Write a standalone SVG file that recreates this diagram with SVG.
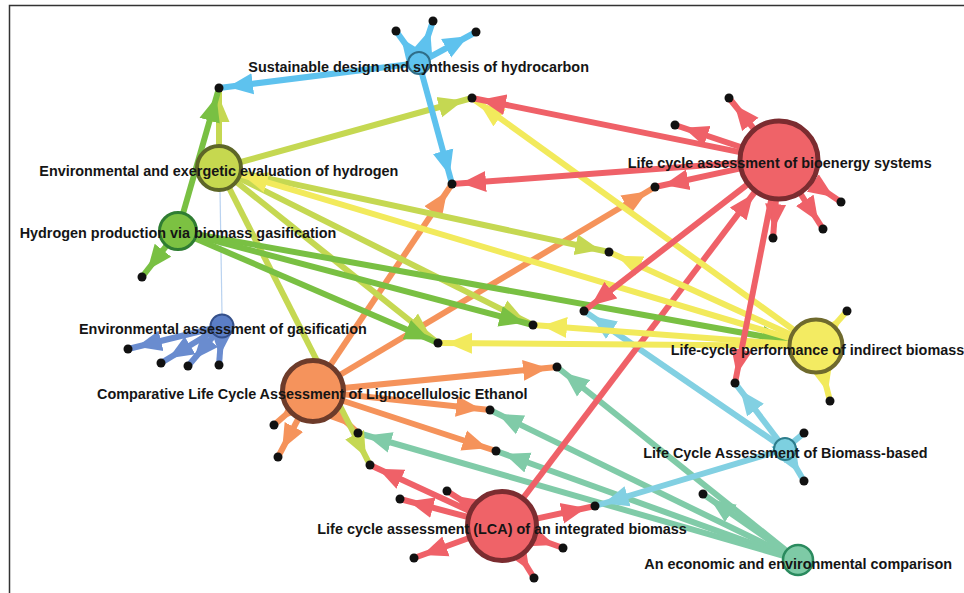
<svg xmlns="http://www.w3.org/2000/svg" width="964" height="593" viewBox="0 0 964 593">
<style>
.e{fill:none;stroke-width:6}
.r{stroke:#ef6168}.y{stroke:#f2ea5c}.yg{stroke:#c5d852}.g{stroke:#79c043}.o{stroke:#f5935b}.t{stroke:#80cba8}.lb{stroke:#82d0e2}.sb{stroke:#5ec2ee}.gb{stroke:#6a8ccf}
.dot{fill:#111}
.lbl{font-family:"Liberation Sans",Arial,sans-serif;font-weight:bold;font-size:14.4px;fill:#151515}
</style>
<defs>
<marker id="m-r" markerUnits="userSpaceOnUse" markerWidth="34" markerHeight="22" refX="34" refY="11" orient="auto"><path d="M0,0.5 L25,11 L0,21.5 Z" fill="#ef6168"/></marker>
<marker id="m-y" markerUnits="userSpaceOnUse" markerWidth="34" markerHeight="22" refX="34" refY="11" orient="auto"><path d="M0,0.5 L25,11 L0,21.5 Z" fill="#f2ea5c"/></marker>
<marker id="m-yg" markerUnits="userSpaceOnUse" markerWidth="34" markerHeight="22" refX="34" refY="11" orient="auto"><path d="M0,0.5 L25,11 L0,21.5 Z" fill="#c5d852"/></marker>
<marker id="m-g" markerUnits="userSpaceOnUse" markerWidth="34" markerHeight="22" refX="34" refY="11" orient="auto"><path d="M0,0.5 L25,11 L0,21.5 Z" fill="#79c043"/></marker>
<marker id="m-o" markerUnits="userSpaceOnUse" markerWidth="34" markerHeight="22" refX="34" refY="11" orient="auto"><path d="M0,0.5 L25,11 L0,21.5 Z" fill="#f5935b"/></marker>
<marker id="m-t" markerUnits="userSpaceOnUse" markerWidth="34" markerHeight="22" refX="34" refY="11" orient="auto"><path d="M0,0.5 L25,11 L0,21.5 Z" fill="#80cba8"/></marker>
<marker id="m-lb" markerUnits="userSpaceOnUse" markerWidth="34" markerHeight="22" refX="34" refY="11" orient="auto"><path d="M0,0.5 L25,11 L0,21.5 Z" fill="#82d0e2"/></marker>
<marker id="m-sb" markerUnits="userSpaceOnUse" markerWidth="34" markerHeight="22" refX="34" refY="11" orient="auto"><path d="M0,0.5 L25,11 L0,21.5 Z" fill="#5ec2ee"/></marker>
<marker id="m-gb" markerUnits="userSpaceOnUse" markerWidth="34" markerHeight="22" refX="34" refY="11" orient="auto"><path d="M0,0.5 L25,11 L0,21.5 Z" fill="#6a8ccf"/></marker>
</defs>
<path d="M9.5,593 V5.5 H964" fill="none" stroke="#333" stroke-width="1.5"/>
<g id="connectors">
<line x1="220" y1="190" x2="222" y2="314" stroke="#b9d2f0" stroke-width="1.2"/>
<line class="e t" x1="798" y1="560" x2="557" y2="367" marker-end="url(#m-t)"/>
<line class="e t" x1="798" y1="560" x2="490" y2="410" marker-end="url(#m-t)"/>
<line class="e t" x1="798" y1="560" x2="496" y2="451" marker-end="url(#m-t)"/>
<line class="e t" x1="798" y1="560" x2="358" y2="433" marker-end="url(#m-t)"/>
<line class="e t" x1="798" y1="560" x2="703" y2="494" marker-end="url(#m-t)"/>
<line class="e lb" x1="785" y1="449" x2="584" y2="311" marker-end="url(#m-lb)"/>
<line class="e lb" x1="785" y1="449" x2="735" y2="383" marker-end="url(#m-lb)"/>
<line class="e lb" x1="785" y1="449" x2="804" y2="433" marker-end="url(#m-lb)"/>
<line class="e lb" x1="785" y1="449" x2="804" y2="481" marker-end="url(#m-lb)"/>
<line class="e lb" x1="785" y1="449" x2="595" y2="506" marker-end="url(#m-lb)"/>
<line class="e r" x1="502" y1="526" x2="758.7" y2="186.9" marker-end="url(#m-r)"/>
<line class="e r" x1="502" y1="526" x2="370" y2="465" marker-end="url(#m-r)"/>
<line class="e r" x1="502" y1="526" x2="447" y2="491" marker-end="url(#m-r)"/>
<line class="e r" x1="502" y1="526" x2="400" y2="499" marker-end="url(#m-r)"/>
<line class="e r" x1="502" y1="526" x2="414" y2="558" marker-end="url(#m-r)"/>
<line class="e r" x1="502" y1="526" x2="595" y2="506" marker-end="url(#m-r)"/>
<line class="e r" x1="502" y1="526" x2="563" y2="548" marker-end="url(#m-r)"/>
<line class="e r" x1="502" y1="526" x2="534" y2="578" marker-end="url(#m-r)"/>
<line class="e o" x1="313" y1="391" x2="452" y2="184" marker-end="url(#m-o)"/>
<line class="e o" x1="313" y1="391" x2="655" y2="187" marker-end="url(#m-o)"/>
<line class="e o" x1="313" y1="391" x2="557" y2="367" marker-end="url(#m-o)"/>
<line class="e o" x1="313" y1="391" x2="490" y2="410" marker-end="url(#m-o)"/>
<line class="e o" x1="313" y1="391" x2="496" y2="451" marker-end="url(#m-o)"/>
<line class="e o" x1="313" y1="391" x2="274" y2="425" marker-end="url(#m-o)"/>
<line class="e o" x1="313" y1="391" x2="278" y2="457" marker-end="url(#m-o)"/>
<line class="e o" x1="313" y1="391" x2="358" y2="433" marker-end="url(#m-o)"/>
<line class="e yg" x1="219" y1="168" x2="219" y2="88" marker-end="url(#m-yg)"/>
<line class="e yg" x1="219" y1="168" x2="472" y2="98" marker-end="url(#m-yg)"/>
<line class="e yg" x1="219" y1="168" x2="609" y2="252" marker-end="url(#m-yg)"/>
<line class="e yg" x1="219" y1="168" x2="533" y2="325" marker-end="url(#m-yg)"/>
<line class="e yg" x1="219" y1="168" x2="438" y2="343" marker-end="url(#m-yg)"/>
<line class="e yg" x1="219" y1="168" x2="370" y2="465" marker-end="url(#m-yg)"/>
<line class="e g" x1="178" y1="231" x2="219" y2="88" marker-end="url(#m-g)"/>
<line class="e g" x1="178" y1="231" x2="142" y2="277" marker-end="url(#m-g)"/>
<line class="e g" x1="178" y1="231" x2="795.8" y2="342.4" marker-end="url(#m-g)"/>
<line class="e g" x1="178" y1="231" x2="533" y2="325" marker-end="url(#m-g)"/>
<line class="e g" x1="178" y1="231" x2="438" y2="343" marker-end="url(#m-g)"/>
<line class="e y" x1="816" y1="346" x2="472" y2="98" marker-end="url(#m-y)"/>
<line class="e y" x1="816" y1="346" x2="234.3" y2="172.6" marker-end="url(#m-y)"/>
<line class="e y" x1="816" y1="346" x2="609" y2="252" marker-end="url(#m-y)"/>
<line class="e y" x1="816" y1="346" x2="533" y2="325" marker-end="url(#m-y)"/>
<line class="e y" x1="816" y1="346" x2="438" y2="343" marker-end="url(#m-y)"/>
<line class="e y" x1="816" y1="346" x2="847" y2="311" marker-end="url(#m-y)"/>
<line class="e y" x1="816" y1="346" x2="830" y2="401" marker-end="url(#m-y)"/>
<line class="e r" x1="779" y1="160" x2="472" y2="98" marker-end="url(#m-r)"/>
<line class="e r" x1="779" y1="160" x2="452" y2="184" marker-end="url(#m-r)"/>
<line class="e r" x1="779" y1="160" x2="675" y2="125" marker-end="url(#m-r)"/>
<line class="e r" x1="779" y1="160" x2="729" y2="98" marker-end="url(#m-r)"/>
<line class="e r" x1="779" y1="160" x2="655" y2="187" marker-end="url(#m-r)"/>
<line class="e r" x1="779" y1="160" x2="841" y2="202" marker-end="url(#m-r)"/>
<line class="e r" x1="779" y1="160" x2="823" y2="229" marker-end="url(#m-r)"/>
<line class="e r" x1="779" y1="160" x2="773" y2="238" marker-end="url(#m-r)"/>
<line class="e r" x1="779" y1="160" x2="584" y2="311" marker-end="url(#m-r)"/>
<line class="e r" x1="779" y1="160" x2="735" y2="383" marker-end="url(#m-r)"/>
<line class="e gb" x1="222" y1="326" x2="128" y2="349" marker-end="url(#m-gb)"/>
<line class="e gb" x1="222" y1="326" x2="161" y2="363" marker-end="url(#m-gb)"/>
<line class="e gb" x1="222" y1="326" x2="188" y2="366" marker-end="url(#m-gb)"/>
<line class="e gb" x1="222" y1="326" x2="219" y2="365" marker-end="url(#m-gb)"/>
<line class="e sb" x1="419" y1="63" x2="396" y2="31" marker-end="url(#m-sb)"/>
<line class="e sb" x1="419" y1="63" x2="433" y2="21" marker-end="url(#m-sb)"/>
<line class="e sb" x1="419" y1="63" x2="476" y2="32" marker-end="url(#m-sb)"/>
<line class="e sb" x1="419" y1="63" x2="219" y2="88" marker-end="url(#m-sb)"/>
<line class="e sb" x1="419" y1="63" x2="452" y2="184" marker-end="url(#m-sb)"/>
</g>
<g id="endpoints">
<circle class="dot" cx="396" cy="31" r="4.5"/><circle class="dot" cx="433" cy="21" r="4.5"/><circle class="dot" cx="476" cy="32" r="4.5"/>
<circle class="dot" cx="219" cy="88" r="4.5"/><circle class="dot" cx="472" cy="98" r="4.5"/><circle class="dot" cx="729" cy="98" r="4.5"/>
<circle class="dot" cx="675" cy="125" r="4.5"/><circle class="dot" cx="452" cy="184" r="4.5"/><circle class="dot" cx="655" cy="187" r="4.5"/>
<circle class="dot" cx="841" cy="202" r="4.5"/><circle class="dot" cx="823" cy="229" r="4.5"/><circle class="dot" cx="773" cy="238" r="4.5"/>
<circle class="dot" cx="609" cy="252" r="4.5"/><circle class="dot" cx="142" cy="277" r="4.5"/><circle class="dot" cx="584" cy="311" r="4.5"/>
<circle class="dot" cx="847" cy="311" r="4.5"/><circle class="dot" cx="533" cy="325" r="4.5"/><circle class="dot" cx="438" cy="343" r="4.5"/>
<circle class="dot" cx="128" cy="349" r="4.5"/><circle class="dot" cx="161" cy="363" r="4.5"/><circle class="dot" cx="188" cy="366" r="4.5"/>
<circle class="dot" cx="219" cy="365" r="4.5"/><circle class="dot" cx="557" cy="367" r="4.5"/><circle class="dot" cx="735" cy="383" r="4.5"/>
<circle class="dot" cx="830" cy="401" r="4.5"/><circle class="dot" cx="490" cy="410" r="4.5"/><circle class="dot" cx="274" cy="425" r="4.5"/>
<circle class="dot" cx="358" cy="433" r="4.5"/><circle class="dot" cx="804" cy="433" r="4.5"/><circle class="dot" cx="496" cy="451" r="4.5"/>
<circle class="dot" cx="278" cy="457" r="4.5"/><circle class="dot" cx="370" cy="465" r="4.5"/><circle class="dot" cx="804" cy="481" r="4.5"/>
<circle class="dot" cx="447" cy="491" r="4.5"/><circle class="dot" cx="703" cy="494" r="4.5"/><circle class="dot" cx="400" cy="499" r="4.5"/>
<circle class="dot" cx="595" cy="506" r="4.5"/><circle class="dot" cx="563" cy="548" r="4.5"/><circle class="dot" cx="414" cy="558" r="4.5"/>
<circle class="dot" cx="534" cy="578" r="4.5"/>
</g>
<g id="node-sustainable"><circle cx="419" cy="63" r="11" fill="#5ec2ee" stroke="#2f6e89" stroke-width="2"/><text class="lbl" x="248.3" y="72">Sustainable design and synthesis of hydrocarbon</text></g>
<g id="node-bioenergy"><circle cx="779" cy="160" r="39" fill="#ef6368" stroke="#7b2c30" stroke-width="5"/><text class="lbl" x="627.7" y="168.3">Life cycle assessment of bioenergy systems</text></g>
<g id="node-exergetic"><circle cx="219" cy="168" r="22" fill="#c6d84f" stroke="#5d6627" stroke-width="4"/><text class="lbl" x="39.3" y="175.7">Environmental and exergetic evaluation of hydrogen</text></g>
<g id="node-hydrogen"><circle cx="178" cy="231" r="18.5" fill="#7cc142" stroke="#2f7d32" stroke-width="3"/><text class="lbl" x="19.7" y="238.4">Hydrogen production via biomass gasification</text></g>
<g id="node-gasification"><circle cx="222" cy="326" r="11.5" fill="#5b7ec6" stroke="#35508a" stroke-width="2"/><text class="lbl" x="79" y="333.7">Environmental assessment of gasification</text></g>
<g id="node-ethanol"><circle cx="313" cy="391" r="30.5" fill="#f5935c" stroke="#6d3b2a" stroke-width="5"/><text class="lbl" x="97" y="399.3">Comparative Life Cycle Assessment of Lignocellulosic Ethanol</text></g>
<g id="node-indirect"><circle cx="816" cy="346" r="26.5" fill="#f3eb62" stroke="#6f6a2d" stroke-width="4"/><text class="lbl" x="670.7" y="354.7">Life-cycle performance of indirect biomass</text></g>
<g id="node-biomass-based"><circle cx="785" cy="449" r="11" fill="#7dd0e0" stroke="#2d7d8c" stroke-width="2"/><text class="lbl" x="643.3" y="457.7">Life Cycle Assessment of Biomass-based</text></g>
<g id="node-integrated"><circle cx="502" cy="526" r="34.5" fill="#ef6368" stroke="#7b2c30" stroke-width="5"/><text class="lbl" x="317.3" y="534.3">Life cycle assessment (LCA) of an integrated biomass</text></g>
<g id="node-comparison"><circle cx="798" cy="560" r="15" fill="#7ecaa6" stroke="#2a8a5e" stroke-width="2.5"/><text class="lbl" x="644.3" y="568.7">An economic and environmental comparison</text></g>
</svg>
